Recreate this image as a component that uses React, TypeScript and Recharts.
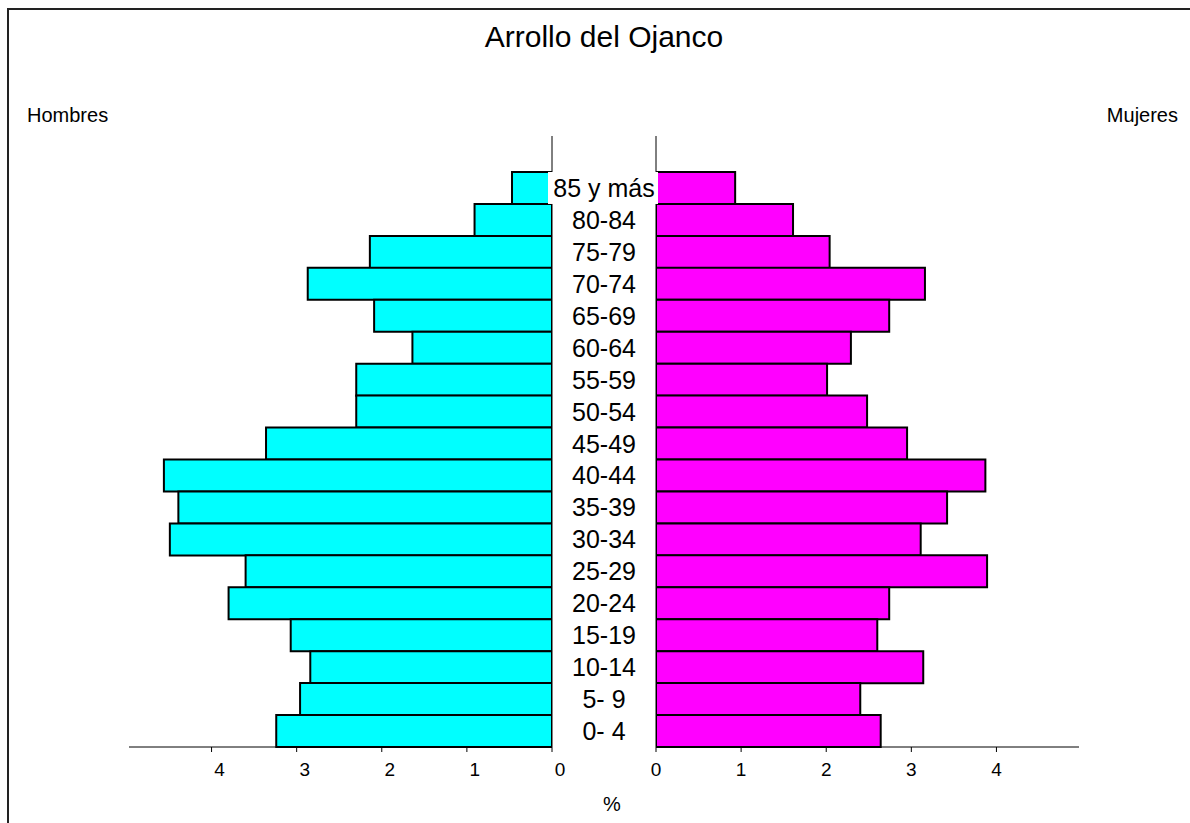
import { BarChart, Bar, XAxis, YAxis } from 'recharts';

const ageGroups = [
  '85 y más', '80-84', '75-79', '70-74', '65-69', '60-64', '55-59', '50-54', '45-49',
  '40-44', '35-39', '30-34', '25-29', '20-24', '15-19', '10-14', '5- 9', '0- 4',
];
const hombres = [
  0.47, 0.91, 2.14, 2.87, 2.09, 1.64, 2.3, 2.3, 3.36,
  4.56, 4.39, 4.49, 3.6, 3.8, 3.07, 2.84, 2.96, 3.24,
];
const mujeres = [
  0.93, 1.61, 2.04, 3.16, 2.74, 2.29, 2.01, 2.48, 2.95,
  3.87, 3.42, 3.11, 3.89, 2.74, 2.6, 3.14, 2.4, 2.64,
];
const xTicks = [0, 1, 2, 3, 4];

const data = ageGroups.map((age, i) => ({ age, hombres: hombres[i], mujeres: mujeres[i] }));

const FONT = '"Liberation Sans", Arial, sans-serif';

function AgeTick(props: any) {
  const { y, payload } = props;
  const label = String(payload.value);
  const wide = label.length > 5;
  return (
    <g>
      {wide && <rect x={8} y={y - 16} width={110} height={32} fill="#fff" />}
      <text x={64} y={y} dy="0.36em" textAnchor="middle" fontSize={25} fill="#000" fontFamily={FONT}>
        {label}
      </text>
    </g>
  );
}

export default function App() {
  return (
    <div style={{ position: 'absolute', left: 0, top: 0, width: 1190, height: 823, background: '#fff', fontFamily: FONT, overflow: 'hidden' }}>
      <div style={{ position: 'absolute', left: 7, top: 8, width: 1183, height: 815, borderTop: '2px solid #222', borderLeft: '2px solid #222' }} />
      <svg width={1190} height={823} style={{ position: 'absolute', left: 0, top: 0 }}>
        <text x={604} y={47} textAnchor="middle" fontSize={30} fill="#000" fontFamily={FONT}>Arrollo del Ojanco</text>
        <text x={27} y={122} fontSize={20} fill="#000" fontFamily={FONT}>Hombres</text>
        <text x={1178} y={122} textAnchor="end" fontSize={20} fill="#000" fontFamily={FONT}>Mujeres</text>
        <text x={612} y={811} textAnchor="middle" fontSize={20} fill="#000" fontFamily={FONT}>%</text>
      </svg>

      <div style={{ position: 'absolute', left: 0, top: 0 }}>
        <BarChart width={590} height={823} data={data} layout="vertical" barCategoryGap={0}
          margin={{ top: 136, right: 37, bottom: 46, left: 129 }}>
          <XAxis type="number" reversed domain={[0, 4.97]} ticks={xTicks} allowDataOverflow
            stroke="#000" tickSize={5} tickMargin={11}
            tick={{ fontSize: 19, fill: '#000', dx: 8, fontFamily: FONT }} />
          <YAxis type="category" dataKey="age" orientation="right" width={1} tick={false} tickLine={false}
            stroke="#000" padding={{ top: 36, bottom: 0 }} />
          <Bar dataKey="hombres" fill="#00FFFF" stroke="#000" strokeWidth={2} isAnimationActive={false} />
        </BarChart>
      </div>

      <div style={{ position: 'absolute', left: 540, top: 0 }}>
        <BarChart width={650} height={823} data={data} layout="vertical" barCategoryGap={0}
          margin={{ top: 136, right: 111, bottom: 46, left: 12 }}>
          <XAxis type="number" domain={[0, 4.97]} ticks={xTicks} allowDataOverflow
            stroke="#000" tickSize={5} tickMargin={11}
            tick={{ fontSize: 19, fill: '#000', fontFamily: FONT }} />
          <Bar dataKey="mujeres" fill="#FF00FF" stroke="#000" strokeWidth={2} isAnimationActive={false} />
          <YAxis type="category" dataKey="age" orientation="left" width={104} tickLine={false}
            stroke="#000" interval={0} tick={<AgeTick />} padding={{ top: 36, bottom: 0 }} />
        </BarChart>
      </div>
    </div>
  );
}
